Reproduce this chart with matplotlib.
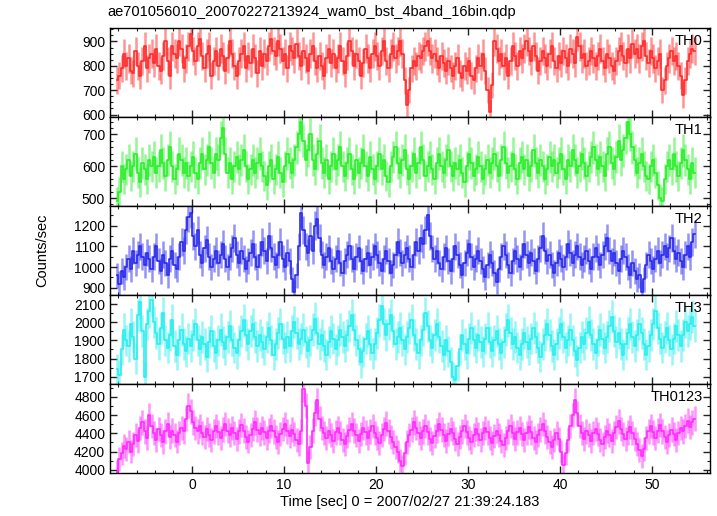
import numpy as np
import matplotlib
matplotlib.use('Agg')
import matplotlib.pyplot as plt
from matplotlib.ticker import MultipleLocator

plt.rcParams['font.family'] = ['Liberation Sans', 'DejaVu Sans']

# 0.25 s bins, bin centres from -8.125 s
bin_width = 0.25
t_start = -8.125

th0 = [740, 760, 790, 850, 800, 830, 780, 770, 860, 800, 760, 820, 880, 790, 830, 850,
       810, 870, 800, 780, 840, 900, 820, 760, 880, 850, 830, 900, 870, 790, 830, 880,
       930, 860, 820, 880, 910, 840, 790, 850, 880, 760, 820, 860, 800, 870, 840, 780,
       830, 900, 850, 800, 760, 820, 850, 880, 790, 840, 810, 870, 830, 770, 860, 800,
       850, 820, 880, 910, 860, 840, 900, 870, 820, 850, 790, 880, 860, 830, 890, 840,
       800, 860, 830, 780, 850, 880, 820, 790, 840, 800, 760, 830, 870, 810, 850, 790,
       830, 880, 820, 770, 840, 900, 860, 800, 850, 820, 760, 810, 870, 830, 790, 850,
       880, 840, 800, 860, 900, 820, 790, 850, 880, 830, 860, 900, 850, 740, 640, 700,
       790, 820, 800, 840, 830, 860, 880, 900, 860, 830, 850, 820, 790, 840, 810, 780,
       820, 790, 760, 800, 830, 770, 750, 800, 780, 820, 760, 740, 790, 830, 800, 850,
       780, 700, 610, 720, 900, 870, 820, 850, 800, 830, 760, 820, 880, 840, 800, 860,
       830, 870, 900, 860, 820, 880, 840, 780, 820, 860, 830, 800, 850, 880, 820, 790,
       840, 810, 860, 830, 800, 870, 850, 810, 920, 880, 830, 850, 800, 820, 860, 830,
       800, 840, 870, 820, 790, 850, 830, 800, 780, 820, 860, 880, 840, 810, 870, 830,
       890, 850, 870, 830, 880, 900, 840, 810, 860, 830, 790, 820, 850, 700, 740, 800,
       830, 860, 820, 840, 800, 760, 680, 740, 820, 850, 870, 860]

th1 = [490, 520, 600, 560, 590, 620, 570, 600, 640, 580, 550, 610, 590, 560, 620, 600,
       630, 580, 600, 650, 610, 570, 620, 660, 600, 560, 590, 640, 620, 580, 610, 570,
       600, 630, 580, 560, 610, 640, 590, 620, 660, 610, 580, 640, 620, 690, 720, 640,
       580, 610, 560, 600, 630, 590, 620, 650, 600, 560, 590, 620, 580, 610, 640, 600,
       570, 540, 600, 620, 560, 590, 630, 580, 550, 600, 640, 610, 580, 620, 660, 700,
       740, 680, 620, 650, 700, 620, 590, 640, 680, 610, 580, 620, 560, 600, 640, 590,
       620, 660, 600, 570, 610, 640, 590, 560, 620, 580, 610, 650, 600, 570, 630, 590,
       560, 600, 640, 590, 620, 570, 550, 600, 630, 660, 610, 580, 620, 650, 590, 560,
       600, 640, 580, 610, 660, 620, 570, 600, 630, 590, 560, 610, 640, 600, 580, 620,
       650, 600, 570, 610, 590, 620, 580, 550, 600, 640, 610, 570, 590, 630, 600, 560,
       590, 620, 580, 610, 640, 600, 570, 620, 660, 610, 580, 600, 640, 590, 560, 610,
       630, 590, 620, 570, 600, 650, 610, 580, 620, 600, 560, 590, 630, 600, 620, 580,
       610, 640, 590, 560, 620, 600, 650, 620, 580, 600, 640, 610, 570, 600, 630, 660,
       620, 590, 630, 600, 570, 640, 660, 610, 590, 630, 680, 620, 650, 690, 740, 700,
       660, 620, 580, 610, 640, 600, 570, 560, 600, 620, 580, 540, 500, 490, 560, 600,
       620, 590, 640, 600, 570, 610, 650, 620, 590, 560, 610, 580]

th2 = [960, 920, 980, 950, 1000, 1040, 990, 1080, 1020, 1060, 1100, 1050, 1010, 1070, 1040, 990,
       1050, 1100, 1030, 980, 1060, 1020, 960, 1040, 1080, 1010, 990, 1050, 1120, 1080, 1180, 1240,
       1260, 1150, 1100, 1180, 1060, 1020, 1090, 1130, 1050, 1000, 1040, 1080, 1020, 1060, 1110, 1040,
       1000, 1050, 1090, 1140, 1060, 1020, 1080, 1040, 990, 1030, 1070, 1110, 1050, 1000, 1060, 1120,
       1080, 1030, 1150, 1090, 1050, 1010, 1060, 1120, 1040, 1000, 1070, 1030, 940, 880, 960, 1100,
       1260, 1180, 1100, 1070, 1150, 1080, 1200, 1230, 1140, 1060, 1010, 1050, 1090, 1030, 990, 1040,
       1080, 1020, 970, 1030, 1060, 1100, 1040, 990, 1050, 1090, 1030, 980, 1040, 1070, 1010, 1050,
       1100, 1060, 1020, 980, 1040, 1080, 1030, 970, 1010, 1060, 1120, 1070, 1020, 1060, 1090, 1040,
       1000, 1060, 1120, 1080, 1140, 1110, 1180, 1250, 1150, 1090, 1040, 1080, 1020, 990, 1050, 1090,
       1030, 980, 1040, 1100, 1060, 1010, 960, 1020, 1070, 1110, 1050, 1000, 1040, 1080, 1030, 990,
       950, 1010, 1060, 1020, 970, 930, 990, 1050, 1100, 1060, 1010, 970, 1030, 1080, 1040, 1000,
       1050, 1110, 1060, 1020, 1070, 1030, 980, 1040, 1090, 1150, 1080, 1030, 1060, 1010, 970, 1020,
       1070, 1040, 1000, 1050, 1110, 1070, 1020, 1060, 1100, 1050, 1010, 1040, 1080, 1030, 990, 1050,
       1090, 1050, 1010, 1060, 1100, 1140, 1080, 1030, 1070, 1020, 980, 1040, 1080, 1050, 1000, 960,
       1020, 980, 940, 960, 880, 940, 1010, 1060, 1030, 990, 1040, 1080, 1020, 1060, 1100, 1050,
       1090, 1140, 1080, 1040, 1070, 1030, 1000, 1060, 1100, 1050, 1120, 1160]

th3 = [1740, 1710, 1850, 1960, 1900, 1870, 1990, 1920, 1800, 2040, 2110, 1950, 1700, 1990, 2060, 2120,
       2000, 1940, 1880, 1970, 2050, 1900, 1860, 1930, 2010, 1870, 1820, 1900, 1960, 1880, 1840, 1910,
       1870, 1930, 1990, 1900, 1850, 1920, 1880, 1810, 1890, 1950, 1870, 1830, 1900, 1960, 1890, 1850,
       1920, 1980, 1900, 1860, 1830, 1900, 1950, 2010, 1930, 1880, 1950, 1990, 1920, 1870, 1930, 1890,
       1850, 1920, 1970, 1900, 1820, 1880, 1940, 1990, 1910, 1860, 1920, 1870, 1950, 2000, 1940, 1880,
       1910, 1960, 1890, 1840, 1900, 1960, 2020, 1940, 1880, 1930, 1870, 1820, 1890, 1950, 1910, 1850,
       1900, 1960, 1920, 1870, 1930, 1980, 2040, 1960, 1900, 1850, 1780, 1840, 1910, 1950, 1880, 1830,
       1880, 1940, 2010, 2090, 1990, 1930, 1990, 2040, 1950, 1880, 1920, 1970, 1900, 1850, 1920, 1970,
       2010, 1930, 1880, 1830, 1900, 1960, 2050, 1980, 1900, 1860, 1930, 1990, 1920, 1870, 1820, 1900,
       1840, 1780, 1700, 1680, 1760, 1850, 1930, 1880, 1830, 1910, 1970, 1900, 1860, 1930, 1890, 1840,
       1910, 1970, 1890, 1840, 1900, 1950, 1880, 1830, 1890, 1960, 2010, 1940, 1880, 1920, 1860, 1820,
       1880, 1940, 1890, 1850, 1910, 1970, 1920, 1860, 1810, 1880, 1930, 1990, 1930, 1870, 1820, 1880,
       1940, 1990, 1920, 1860, 1900, 1960, 1900, 1840, 1790, 1860, 1920, 1880, 1940, 2000, 1930, 1880,
       1830, 1900, 1960, 1910, 1860, 1920, 1980, 2030, 1950, 1890, 1940, 1880, 1820, 1880, 1940, 1990,
       1920, 1870, 1930, 1990, 1940, 1880, 1820, 1870, 1930, 1990, 2060, 1970, 1910, 1860, 1920, 1970,
       1900, 1850, 1910, 1980, 1930, 1870, 1930, 2000, 1950, 1990, 2030, 1980]

th0123 = [3980, 4120, 4180, 4260, 4230, 4310, 4200, 4280, 4380, 4320, 4460, 4520, 4420, 4350, 4600, 4480,
          4400, 4330, 4450, 4380, 4300, 4420, 4500, 4360, 4430, 4380, 4310, 4400, 4460, 4420, 4560, 4700,
          4640, 4520, 4460, 4420, 4480, 4400, 4360, 4450, 4380, 4330, 4420, 4480, 4410, 4350, 4440, 4500,
          4430, 4380, 4460, 4400, 4340, 4420, 4490, 4430, 4360, 4310, 4380, 4450, 4520, 4440, 4390, 4460,
          4410, 4350, 4430, 4480, 4420, 4360, 4300, 4390, 4450, 4500, 4420, 4370, 4440, 4390, 4330, 4280,
          4420, 4880, 4700, 4080, 4250, 4430, 4620, 4760, 4560, 4460, 4400, 4350, 4430, 4380, 4320, 4410,
          4460, 4400, 4330, 4280, 4370, 4440, 4500, 4430, 4380, 4320, 4390, 4460, 4410, 4350, 4420, 4480,
          4400, 4350, 4290, 4380, 4450, 4510, 4420, 4360, 4300, 4250, 4200, 4100, 4040, 4180, 4300, 4380,
          4440, 4520, 4460, 4400, 4350, 4420, 4480, 4410, 4340, 4290, 4370, 4430, 4500, 4440, 4380, 4320,
          4390, 4450, 4400, 4340, 4280, 4360, 4420, 4480, 4410, 4350, 4300, 4380, 4450, 4390, 4330, 4400,
          4460, 4410, 4350, 4290, 4370, 4430, 4380, 4320, 4270, 4350, 4420, 4480, 4400, 4340, 4410, 4460,
          4390, 4330, 4400, 4470, 4410, 4350, 4300, 4380, 4440, 4500, 4420, 4360, 4300, 4250, 4330, 4400,
          4340, 4200, 4050, 4180, 4330, 4480, 4600, 4760, 4620, 4480, 4400, 4340, 4420, 4380, 4320, 4400,
          4450, 4390, 4330, 4280, 4360, 4430, 4380, 4320, 4400, 4470, 4530, 4450, 4390, 4340, 4410, 4470,
          4400, 4340, 4280, 4220, 4150, 4230, 4350, 4420, 4480, 4410, 4350, 4430, 4490, 4420, 4360, 4300,
          4380, 4440, 4390, 4330, 4400, 4460, 4420, 4480, 4540, 4470, 4520, 4560]

panel_names = ['TH0', 'TH1', 'TH2', 'TH3', 'TH0123']
panel_data = [th0, th1, th2, th3, th0123]
colors = ['#ff2a2a', '#2aee2a', '#2a2aee', '#2aeeee', '#ff2aff']
ylims = [(590, 955), (475, 755), (865, 1295), (1660, 2150), (3965, 4940)]
major_steps = [100, 100, 100, 100, 200]
minor_steps = [25, 20, 50, 50, 100]

W, H = 717, 516
fig = plt.figure(figsize=(W / 100, H / 100), dpi=100)

left, right = 110, 710
top, bottom = 28, 473
ph = (bottom - top) / 5

for k, (name, vals) in enumerate(zip(panel_names, panel_data)):
    vals = np.array(vals, dtype=float)
    t = t_start + bin_width * np.arange(len(vals))
    err = np.sqrt(vals / bin_width)  # poisson error on the rate
    y0 = top + k * ph
    ax = fig.add_axes([left / W, 1 - (y0 + ph) / H, (right - left) / W, ph / H])
    ax.errorbar(t, vals, yerr=err, fmt='none', ecolor=colors[k], alpha=0.5,
                elinewidth=1.8, capsize=0)
    ax.step(t, vals, where='mid', color=colors[k], lw=1.2)
    ax.set_xlim(-8.9, 56.3)
    ax.set_ylim(*ylims[k])
    ax.xaxis.set_major_locator(MultipleLocator(10))
    ax.xaxis.set_minor_locator(MultipleLocator(2))
    ax.yaxis.set_major_locator(MultipleLocator(major_steps[k]))
    ax.yaxis.set_minor_locator(MultipleLocator(minor_steps[k]))
    ax.tick_params(which='both', direction='in', top=True, right=True,
                   labelsize=10, color='#222222')
    ax.tick_params(which='major', length=5, width=1)
    ax.tick_params(which='minor', length=2.5, width=0.8)
    for s in ax.spines.values():
        s.set_linewidth(1.0)
    if k < 4:
        ax.tick_params(labelbottom=False)
    else:
        ax.set_xlabel('Time [sec] 0 = 2007/02/27 21:39:24.183', fontsize=10.5, labelpad=2)
    ax.text(0.988, 0.93, name, transform=ax.transAxes, ha='right', va='top', fontsize=10.5)

fig.text(107 / W, 1 - 12 / H, 'ae701056010_20070227213924_wam0_bst_4band_16bin.qdp',
         ha='left', va='center', fontsize=10.5)
fig.text(42 / W, 1 - 250 / H, 'Counts/sec', rotation=90, ha='center', va='center', fontsize=10.5)

fig.savefig('out.png', dpi=100)
